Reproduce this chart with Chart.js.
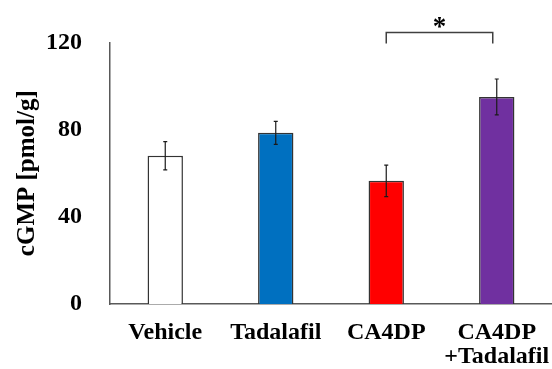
<!DOCTYPE html>
<html>
<head>
<meta charset="utf-8">
<script src="https://cdn.jsdelivr.net/npm/chart.js@4"></script>
<style>
  html, body { margin: 0; padding: 0; background: #fff; }
  #wrap { width: 552px; height: 369px; }
</style>
</head>
<body>
<div id="wrap"><canvas id="cgmpChart" width="552" height="369"></canvas></div>
<script>
// dati
const groups = ['Vehicle', 'Tadalafil', 'CA4DP', ['CA4DP', '+Tadalafil']];
const cgmpMeans = [68, 78.5, 56.5, 95];
const cgmpErrors = [6.5, 5.3, 7.2, 8.2];
const barColors = ['#ffffff', '#0070c0', '#ff0000', '#7030a0'];
const yTicks = [0, 40, 80, 120];
const significantPair = [2, 3];
const significanceMark = '*';

const serifBold = { family: "'Liberation Serif', 'Times New Roman', serif", weight: 'bold' };

// barre di errore (SEM)
const errorBarsPlugin = {
    id: 'errorBars',
    afterDatasetsDraw(chart) {
        const ctx = chart.ctx;
        const meta = chart.getDatasetMeta(0);
        const y = chart.scales.y;
        ctx.save();
        ctx.strokeStyle = '#1a1a1a';
        ctx.lineWidth = 1.2;
        meta.data.forEach((bar, i) => {
            const top = y.getPixelForValue(cgmpMeans[i] + cgmpErrors[i]);
            const bottom = y.getPixelForValue(cgmpMeans[i] - cgmpErrors[i]);
            const cx = bar.x;
            ctx.beginPath();
            ctx.moveTo(cx, top); ctx.lineTo(cx, bottom);
            ctx.moveTo(cx - 2, top); ctx.lineTo(cx + 2, top);
            ctx.moveTo(cx - 2, bottom); ctx.lineTo(cx + 2, bottom);
            ctx.stroke();
        });
        ctx.restore();
    }
};

// parentesi di significatività con asterisco
const significancePlugin = {
    id: 'significance',
    afterDraw(chart) {
        const ctx = chart.ctx;
        const meta = chart.getDatasetMeta(0);
        const area = chart.chartArea;
        const x1 = meta.data[significantPair[0]].x;
        const x2 = meta.data[significantPair[1]].x - 4;
        const top = area.top - 10;
        const legBottom = area.top + 1;
        ctx.save();
        ctx.strokeStyle = '#404040';
        ctx.lineWidth = 1.5;
        ctx.beginPath();
        ctx.moveTo(x1, legBottom);
        ctx.lineTo(x1, top);
        ctx.lineTo(x2, top);
        ctx.lineTo(x2, legBottom);
        ctx.stroke();
        ctx.fillStyle = '#000';
        ctx.font = "bold 27px 'Liberation Serif', serif";
        ctx.textAlign = 'center';
        ctx.textBaseline = 'alphabetic';
        ctx.fillText(significanceMark, (x1 + x2) / 2, top + 3);
        ctx.restore();
    }
};

const ctx = document.getElementById('cgmpChart').getContext('2d');
new Chart(ctx, {
    type: 'bar',
    data: {
        labels: groups,
        datasets: [{
            data: cgmpMeans,
            backgroundColor: barColors,
            borderColor: '#333333',
            borderWidth: 1.5,
            barPercentage: 0.32,
            categoryPercentage: 1.0
        }]
    },
    options: {
        responsive: false,
        animation: false,
        layout: { padding: { top: 42, left: 0, right: -2, bottom: 0 } },
        plugins: {
            legend: { display: false },
            tooltip: { enabled: false }
        },
        scales: {
            x: {
                grid: { display: false, drawTicks: false },
                border: { color: '#595959', width: 1.5 },
                ticks: {
                    color: '#000',
                    font: { ...serifBold, size: 24, lineHeight: 1.0 },
                    padding: 17,
                    maxRotation: 0,
                    autoSkip: false
                },
                afterFit(scale) {
                    scale.height = 65;
                    scale.paddingLeft = 0;
                    scale.paddingRight = 0;
                }
            },
            y: {
                min: 0,
                max: 120,
                afterBuildTicks(scale) { scale.ticks = yTicks.map(v => ({ value: v })); },
                grid: { display: false, drawTicks: false },
                border: { color: '#595959', width: 1.5 },
                ticks: {
                    color: '#000',
                    font: { ...serifBold, size: 24 },
                    padding: 28
                },
                title: {
                    display: true,
                    text: 'cGMP [pmol/g]',
                    color: '#000',
                    font: { ...serifBold, size: 25 },
                    padding: { top: 13, bottom: 0 }
                },
                afterFit(scale) { scale.width = 110; }
            }
        }
    },
    plugins: [errorBarsPlugin, significancePlugin]
});
</script>
</body>
</html>
